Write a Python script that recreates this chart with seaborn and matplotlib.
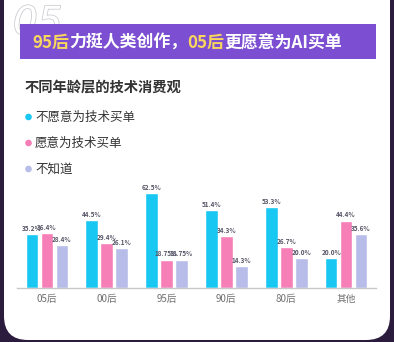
import matplotlib
matplotlib.use("Agg")
import matplotlib.pyplot as plt
import matplotlib.patheffects as pe
from matplotlib.patches import FancyBboxPatch, Rectangle, Circle
import seaborn as sns
import pandas as pd

categories = ["05后", "00后", "95后", "90后", "80后", "其他"]
series_names = ["不愿意为技术买单", "愿意为技术买单", "不知道"]
not_willing = [35.2, 44.5, 62.5, 51.4, 53.3, 20.0]
willing = [36.4, 29.4, 18.75, 34.3, 26.7, 44.4]
unknown = [28.4, 26.1, 18.75, 14.3, 20.0, 35.6]
value_labels = [
    ["35.2%", "44.5%", "62.5%", "51.4%", "53.3%", "20.0%"],
    ["36.4%", "29.4%", "18.75%", "34.3%", "26.7%", "44.4%"],
    ["28.4%", "26.1%", "18.75%", "14.3%", "20.0%", "35.6%"],
]
colors = ["#18c8f2", "#f77fb8", "#b8bce8"]
title_parts = [("95后", "#f9d65c"), ("力挺人类创作，", "white"), ("05后", "#f9d65c"), ("更愿意为AI买单", "white")]
subtitle = "不同年龄层的技术消费观"

sns.set_theme(style="white")
plt.rcParams["font.family"] = ["Noto Sans CJK SC", "DejaVu Sans"]

W, H = 394, 342
fig = plt.figure(figsize=(W / 100, H / 100), dpi=100)
fig.patch.set_facecolor("#2b1b3d")

bg = fig.add_axes([0, 0, 1, 1])
bg.set_xlim(0, W)
bg.set_ylim(H, 0)
bg.axis("off")
bg.set_zorder(0)

card = FancyBboxPatch((4, -40), 386, 380, boxstyle="round,pad=0,rounding_size=24",
                      facecolor="white", edgecolor="none", zorder=0)
bg.add_patch(card)

# outlined "05"
bg.text(13, 34, "05", fontsize=28, style="italic", family="DejaVu Sans",
        color="white", va="baseline", ha="left", zorder=0.5,
        path_effects=[pe.withStroke(linewidth=1.0, foreground="#c4c4cc")])

bg.add_patch(Rectangle((20, 24), 356, 35, facecolor="#7b4ed2", edgecolor="none", zorder=1))

fig.canvas.draw()
renderer = fig.canvas.get_renderer()
x = 32
for txt, col in title_parts:
    t = bg.text(x, 42.5, txt, fontsize=12.2, weight="heavy", color=col,
                va="center", ha="left", zorder=2)
    ext = t.get_window_extent(renderer=renderer)
    x += ext.width

bg.text(25, 88, subtitle, fontsize=10.3, weight="bold", color="#333333", va="center", ha="left")

legend_y = [117, 143, 169]
for yy, name, c in zip(legend_y, series_names, colors):
    bg.add_patch(Circle((28.5, yy), 3.3, facecolor=c, edgecolor="none", zorder=2))
    bg.text(35, yy, name, fontsize=9, color="#333333", va="center", ha="left")

# bars
rows = []
for cat, a, b, c in zip(categories, not_willing, willing, unknown):
    rows.append((cat, series_names[0], a))
    rows.append((cat, series_names[1], b))
    rows.append((cat, series_names[2], c))
df = pd.DataFrame(rows, columns=["cat", "series", "value"])

ax = fig.add_axes([17 / W, (H - 288) / H, 359 / W, (288 - 181.6) / H])
ax.set_zorder(2)
ax.patch.set_alpha(0)
sns.barplot(data=df, x="cat", y="value", hue="series", order=categories,
            hue_order=series_names, palette=colors, width=0.75, gap=0.15,
            legend=False, ax=ax, saturation=1)
ax.set_ylim(0, 70)
ax.set_xlim(-0.5, 5.5)
ax.set_xlabel("")
ax.set_ylabel("")
ax.set_yticks([])
for s in ["top", "right", "left"]:
    ax.spines[s].set_visible(False)
ax.spines["bottom"].set_color("#c8c8cc")
ax.spines["bottom"].set_linewidth(1.0)
ax.tick_params(axis="x", length=0, pad=4, labelsize=7, labelcolor="#707070")

for container, labels in zip(ax.containers, value_labels):
    ax.bar_label(container, labels=labels, padding=1.5, fontsize=4.6, color="#555566",
                 weight="bold")

fig.savefig("out.png", dpi=100, facecolor=fig.get_facecolor())
